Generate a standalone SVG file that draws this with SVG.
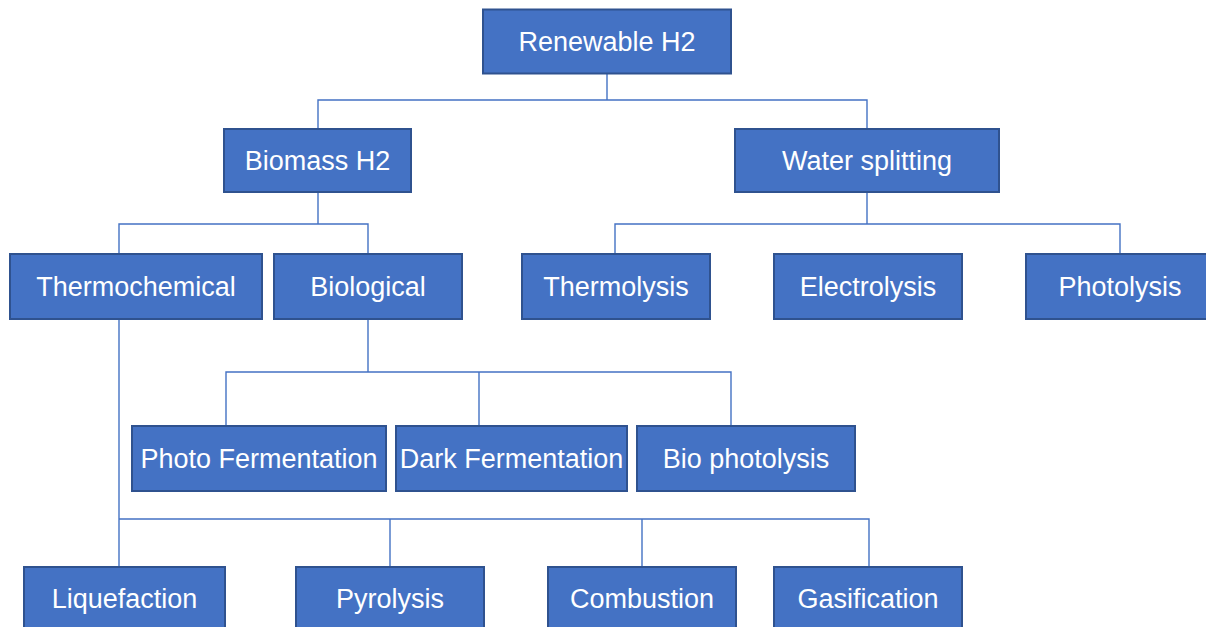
<svg xmlns="http://www.w3.org/2000/svg" width="1206" height="627" viewBox="0 0 1206 627">
<style>
.box{fill:#4472C4;stroke:#2F528F;stroke-width:2}
.lbl{fill:#ffffff;font-family:"Liberation Sans",Arial,sans-serif;font-size:27px;text-anchor:middle}
.conn{fill:none;stroke:#4472C4;stroke-width:1.4}
</style>
<rect width="1206" height="627" fill="#ffffff"/>
<g id="connectors">
<path class="conn" d="M607,73 V100 M318,129 V100 H867 V129"/>
<path class="conn" d="M318,192 V224 M119,254 V224 H368 V254"/>
<path class="conn" d="M867,192 V224 M615,254 V224 H1120 V254"/>
<path class="conn" d="M368,319 V372 M226,426 V372 H731 V426 M479,372 V426"/>
<path class="conn" d="M119,319 V567 M119,519 H869 V567 M390,519 V567 M642,519 V567"/>
</g>
<g id="renewable"><rect class="box" x="483" y="9.5" width="248" height="64"/><text class="lbl" x="607" y="50.5">Renewable H2</text></g>
<g id="biomass"><rect class="box" x="224" y="129" width="187" height="63"/><text class="lbl" x="317.5" y="169.5">Biomass H2</text></g>
<g id="water"><rect class="box" x="735" y="129" width="264" height="63"/><text class="lbl" x="867" y="169.5">Water splitting</text></g>
<g id="thermochemical"><rect class="box" x="10" y="254" width="252" height="65"/><text class="lbl" x="136" y="295.5">Thermochemical</text></g>
<g id="biological"><rect class="box" x="274" y="254" width="188" height="65"/><text class="lbl" x="368" y="295.5">Biological</text></g>
<g id="thermolysis"><rect class="box" x="522" y="254" width="188" height="65"/><text class="lbl" x="616" y="295.5">Thermolysis</text></g>
<g id="electrolysis"><rect class="box" x="774" y="254" width="188" height="65"/><text class="lbl" x="868" y="295.5">Electrolysis</text></g>
<g id="photolysis"><rect class="box" x="1026" y="254" width="188" height="65"/><text class="lbl" x="1120" y="295.5">Photolysis</text></g>
<g id="photofermentation"><rect class="box" x="132" y="426" width="254" height="65"/><text class="lbl" x="259" y="467.5">Photo Fermentation</text></g>
<g id="darkfermentation"><rect class="box" x="396" y="426" width="231" height="65"/><text class="lbl" x="511.5" y="467.5">Dark Fermentation</text></g>
<g id="biophotolysis"><rect class="box" x="637" y="426" width="218" height="65"/><text class="lbl" x="746" y="467.5">Bio photolysis</text></g>
<g id="liquefaction"><rect class="box" x="24" y="567" width="201" height="70"/><text class="lbl" x="124.5" y="607.5">Liquefaction</text></g>
<g id="pyrolysis"><rect class="box" x="296" y="567" width="188" height="70"/><text class="lbl" x="390" y="607.5">Pyrolysis</text></g>
<g id="combustion"><rect class="box" x="548" y="567" width="188" height="70"/><text class="lbl" x="642" y="607.5">Combustion</text></g>
<g id="gasification"><rect class="box" x="774" y="567" width="188" height="70"/><text class="lbl" x="868" y="607.5">Gasification</text></g>
</svg>
